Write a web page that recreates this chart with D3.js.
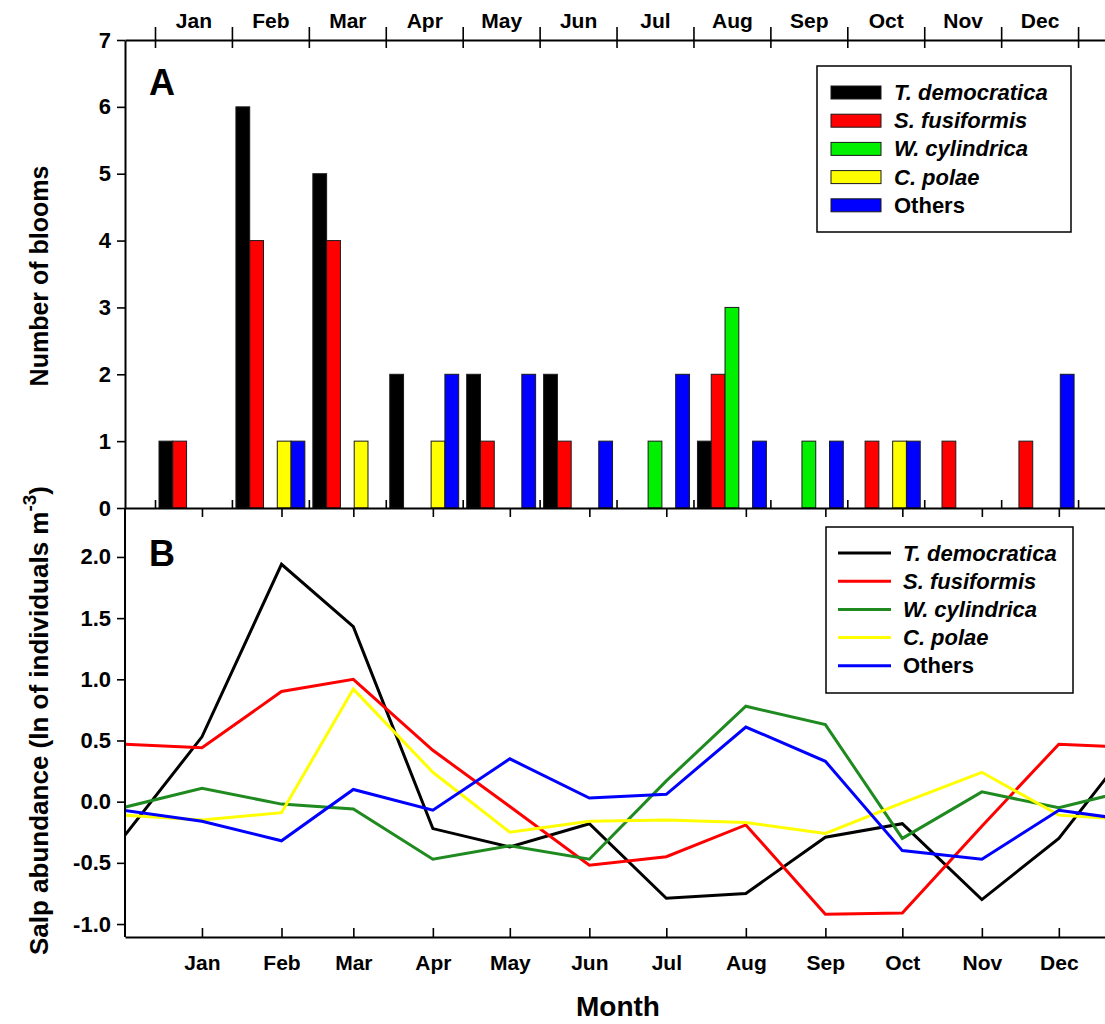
<!DOCTYPE html>
<html>
<head>
<meta charset="utf-8">
<script src="https://cdn.jsdelivr.net/npm/d3@7"></script>
<style>
  body { margin: 0; background: #fff; }
  svg { display: block; font-family: "Liberation Sans", Arial, sans-serif; font-weight: bold; }
</style>
</head>
<body>
<div id="chart"></div>
<script>
const months = ["Jan", "Feb", "Mar", "Apr", "May", "Jun", "Jul", "Aug", "Sep", "Oct", "Nov", "Dec"];
const species = ["T. democratica", "S. fusiformis", "W. cylindrica", "C. polae", "Others"];

// panel A: number of blooms per month
const bloomsTdem   = [1, 6, 5, 2, 2, 2, 0, 1, 0, 0, 0, 0];
const bloomsSfus   = [1, 4, 4, 0, 1, 1, 0, 2, 0, 1, 1, 1];
const bloomsWcyl   = [0, 0, 0, 0, 0, 0, 1, 3, 1, 0, 0, 0];
const bloomsCpol   = [0, 1, 1, 1, 0, 0, 0, 0, 0, 1, 0, 0];
const bloomsOthers = [0, 1, 0, 2, 2, 1, 2, 1, 1, 1, 0, 2];

// panel B: salp abundance, ln of individuals m-3 (mid-month)
const abundTdem   = [0.53, 1.94, 1.43, -0.22, -0.37, -0.18, -0.79, -0.75, -0.29, -0.18, -0.80, -0.30];
const abundSfus   = [0.44, 0.90, 1.00, 0.42, -0.04, -0.52, -0.45, -0.19, -0.92, -0.91, -0.20, 0.47];
const abundWcyl   = [0.11, -0.02, -0.06, -0.47, -0.36, -0.47, 0.17, 0.78, 0.63, -0.30, 0.08, -0.05];
const abundCpol   = [-0.15, -0.09, 0.92, 0.24, -0.25, -0.16, -0.15, -0.17, -0.26, -0.01, 0.24, -0.11];
const abundOthers = [-0.16, -0.32, 0.10, -0.07, 0.35, 0.03, 0.06, 0.61, 0.33, -0.40, -0.47, -0.07];

const bloomSeries = [bloomsTdem, bloomsSfus, bloomsWcyl, bloomsCpol, bloomsOthers];
const abundSeries = [abundTdem, abundSfus, abundWcyl, abundCpol, abundOthers];
const barColors  = ["#000000", "#ff0000", "#00f000", "#ffff00", "#0000ff"];
const lineColors = ["#000000", "#ff0000", "#1f8a1f", "#ffff00", "#0000ff"];

const width = 1105, height = 1024;
const left = 125, right = 1105;
const topA = 40, bottomA = 508, bottomB = 937;

const svg = d3.select("#chart").append("svg")
  .attr("width", width).attr("height", height);

// ---------- panel A ----------
const xA = d3.scaleLinear().domain([-0.39, 12.35]).range([left, right]);
const yA = d3.scaleLinear().domain([0, 7]).range([bottomA, topA]);
const inner = d3.scaleBand().domain(species)
  .range([0, xA(1) - xA(0)]).paddingInner(0).paddingOuter(0.29);

const barData = [];
bloomSeries.forEach((vals, s) => vals.forEach((v, m) => {
  if (v > 0) barData.push({ s, m, v });
}));

svg.append("g").selectAll("rect")
  .data(barData)
  .join("rect")
  .attr("x", d => xA(d.m) + inner(species[d.s]))
  .attr("width", inner.bandwidth())
  .attr("y", d => yA(d.v))
  .attr("height", d => yA(0) - yA(d.v))
  .attr("fill", d => barColors[d.s])
  .attr("stroke", "#1a1a1a")
  .attr("stroke-width", 1);

function styleAxis(g, size) {
  g.selectAll("path.domain").attr("stroke", "#000").attr("stroke-width", 2);
  g.selectAll(".tick line").attr("stroke", "#000").attr("stroke-width", 1.6);
  g.selectAll("text").attr("font-size", size).attr("font-weight", "bold")
    .attr("font-family", "Liberation Sans, Arial, sans-serif").attr("fill", "#000");
}

// top month axis (boundaries cross the line, labels centred in month)
const topTicks = svg.append("g").attr("transform", `translate(0,${topA})`)
  .call(d3.axisTop(xA).tickValues(d3.range(13)).tickSize(13).tickSizeOuter(0).tickFormat(""));
topTicks.selectAll(".tick line").attr("y2", 8).attr("y1", -13);
styleAxis(topTicks, 21);
const topLabels = svg.append("g").attr("transform", `translate(0,${topA})`)
  .call(d3.axisTop(xA).tickValues(d3.range(12).map(i => i + 0.5)).tickSize(0)
    .tickPadding(12).tickFormat(d => months[Math.floor(d)]));
topLabels.select("path.domain").remove();
styleAxis(topLabels, 21);

// left axis A
const leftA = svg.append("g").attr("transform", `translate(${left},0)`)
  .call(d3.axisLeft(yA).ticks(7).tickSize(8).tickSizeOuter(0).tickPadding(6));
styleAxis(leftA, 22);

// bottom of A: month boundary ticks upward
const bottomAx = svg.append("g").attr("transform", `translate(0,${bottomA})`)
  .call(d3.axisTop(xA).tickValues(d3.range(13)).tickSize(8).tickSizeOuter(0).tickFormat(""));
styleAxis(bottomAx, 21);

// ---------- panel B ----------
const xB = d3.scaleTime()
  .domain([new Date(2000, 11, 16), new Date(2002, 0, 2)])
  .range([left, right]);
const yB = d3.scaleLinear().domain([-1.106, 2.40]).range([bottomB, bottomA]);
const midMonths = d3.range(12).map(m => new Date(2001, m, 15));

// top edge of B: mid-month ticks pointing down
const topB = svg.append("g").attr("transform", `translate(0,${bottomA})`)
  .call(d3.axisBottom(xB).tickValues(midMonths).tickSize(9).tickSizeOuter(0).tickFormat(""));
topB.select("path.domain").remove();
styleAxis(topB, 21);

svg.append("defs").append("clipPath").attr("id", "clipB")
  .append("rect").attr("x", left).attr("y", bottomA)
  .attr("width", right - left).attr("height", bottomB - bottomA);

const line = d3.line().x(d => xB(d.date)).y(d => yB(d.v));
// cyclic: previous December and next January continue the pattern
const lineData = abundSeries.map(vals => [
  { date: new Date(2000, 11, 15), v: vals[11] },
  ...vals.map((v, m) => ({ date: new Date(2001, m, 15), v })),
  { date: new Date(2002, 0, 15), v: vals[0] }
]);

svg.append("g").attr("clip-path", "url(#clipB)")
  .selectAll("path")
  .data(lineData)
  .join("path")
  .attr("d", line)
  .attr("fill", "none")
  .attr("stroke", (d, i) => lineColors[i])
  .attr("stroke-width", 3)
  .attr("stroke-linejoin", "miter");

const leftB = svg.append("g").attr("transform", `translate(${left},0)`)
  .call(d3.axisLeft(yB).tickValues([-1, -0.5, 0, 0.5, 1, 1.5, 2]).tickSize(8)
    .tickSizeOuter(0).tickPadding(6).tickFormat(d => d.toFixed(1)));
leftB.select("path.domain").attr("d", `M0,${bottomA}V${bottomB}`);
styleAxis(leftB, 22);

const bottomBx = svg.append("g").attr("transform", `translate(0,${bottomB})`)
  .call(d3.axisBottom(xB).tickValues(midMonths).tickSize(-9).tickSizeOuter(0)
    .tickFormat((d, i) => months[i]));
bottomBx.selectAll(".tick text").attr("y", 33).attr("dy", 0);
styleAxis(bottomBx, 21);

// ---------- legends ----------
function legend(x, y, w, h, rowY, kind) {
  const g = svg.append("g");
  g.append("rect").attr("x", x).attr("y", y).attr("width", w).attr("height", h)
    .attr("fill", "#fff").attr("stroke", "#000").attr("stroke-width", 1.5);
  species.forEach((name, i) => {
    const cy = rowY + i * 28.2;
    if (kind === "bar") {
      g.append("rect").attr("x", x + 14).attr("y", cy - 6.5).attr("width", 50).attr("height", 13)
        .attr("fill", barColors[i]).attr("stroke", "#1a1a1a").attr("stroke-width", 1);
    } else {
      g.append("line").attr("x1", x + 12).attr("x2", x + 65).attr("y1", cy).attr("y2", cy)
        .attr("stroke", lineColors[i]).attr("stroke-width", 3);
    }
    g.append("text").attr("x", x + 77).attr("y", cy + 7.5)
      .attr("font-size", 22)
      .attr("font-style", name === "Others" ? "normal" : "italic")
      .text(name);
  });
}
legend(817, 66, 254, 166, 92.5, "bar");
legend(826, 527, 247, 166, 553, "line");

// ---------- labels ----------
svg.append("text").attr("x", 149).attr("y", 95).attr("font-size", 36).text("A");
svg.append("text").attr("x", 149).attr("y", 566).attr("font-size", 36).text("B");

svg.append("text")
  .attr("transform", `translate(48,${(topA + bottomA) / 2 + 2}) rotate(-90)`)
  .attr("text-anchor", "middle").attr("font-size", 25)
  .text("Number of blooms");

const salp = svg.append("text")
  .attr("transform", `translate(48,${(bottomA + bottomB) / 2 - 2}) rotate(-90)`)
  .attr("text-anchor", "middle").attr("font-size", 26);
salp.append("tspan").text("Salp abundance (ln of individuals m");
salp.append("tspan").attr("font-size", 19).attr("dy", -12).text("-3");
salp.append("tspan").attr("dy", 12).text(")");

svg.append("text").attr("x", 618).attr("y", 1016)
  .attr("text-anchor", "middle").attr("font-size", 28).text("Month");
</script>
</body>
</html>
